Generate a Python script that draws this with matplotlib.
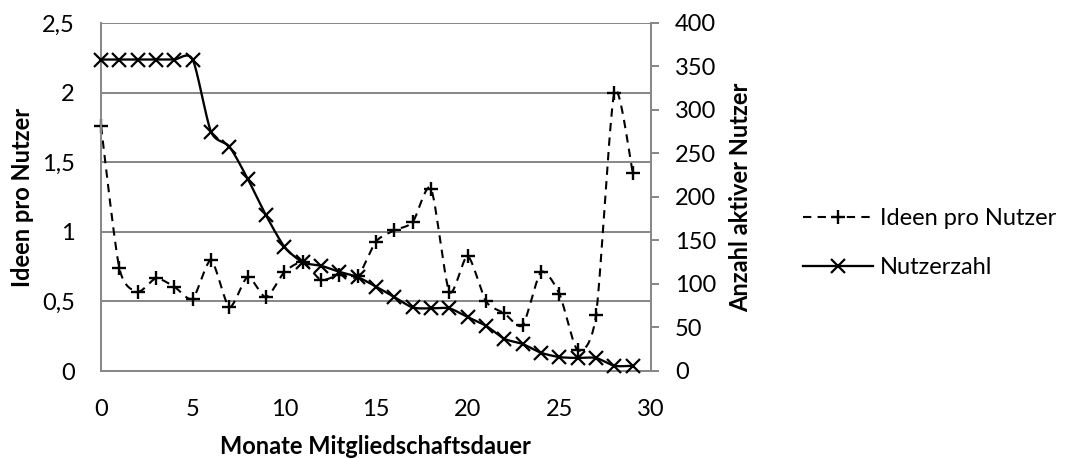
import numpy as np
import matplotlib
matplotlib.use("Agg")
import matplotlib.pyplot as plt
from matplotlib.lines import Line2D

# ---- data ----
months = list(range(30))
ideen_pro_nutzer = [1.76, 0.74, 0.57, 0.665, 0.605, 0.52, 0.795, 0.46, 0.675, 0.53,
                    0.71, 0.78, 0.655, 0.69, 0.68, 0.93, 1.01, 1.07, 1.31, 0.57,
                    0.825, 0.5, 0.415, 0.33, 0.71, 0.555, 0.15, 0.4, 2.0, 1.425]
nutzerzahl = [358, 358, 358, 358, 358, 358, 275, 258, 221, 179,
              143, 125, 121, 114, 108, 97, 85, 73, 72, 72,
              62, 52, 37, 31, 21, 16, 15, 15, 6, 6]

x_ticks = [0, 5, 10, 15, 20, 25, 30]
left_ticks = [0, 0.5, 1, 1.5, 2, 2.5]
left_tick_labels = ["0", "0,5", "1", "1,5", "2", "2,5"]
right_ticks = [0, 50, 100, 150, 200, 250, 300, 350, 400]

series_labels = ["Ideen pro Nutzer", "Nutzerzahl"]
x_title = "Monate Mitgliedschaftsdauer"
y_left_title = "Ideen pro Nutzer"
y_right_title = "Anzahl aktiver Nutzer"

plt.rcParams['font.family'] = ['Lato', 'DejaVu Sans']
FS = 17
GRAY = '#868686'
PX = 72 / 100.0  # points per pixel


def smooth(xs, ys, n=24, k=1 / 8.0):
    """Excel-like smoothed line (cubic Bezier through the data points)."""
    p = np.column_stack([xs, ys]).astype(float)
    m = len(p)
    out = [p[0]]
    t = np.linspace(0, 1, n)[1:, None]
    for i in range(m - 1):
        p0 = p[i - 1] if i > 0 else p[i]
        p1 = p[i]
        p2 = p[i + 1]
        p3 = p[i + 2] if i + 2 < m else p[i + 1]
        c1 = p1 + (p2 - p0) * k
        c2 = p2 - (p3 - p1) * k
        seg = ((1 - t) ** 3) * p1 + 3 * ((1 - t) ** 2) * t * c1 + 3 * (1 - t) * t ** 2 * c2 + t ** 3 * p2
        out.extend(seg)
    out = np.array(out)
    return out[:, 0], out[:, 1]


fig = plt.figure(figsize=(10.66, 4.59), dpi=100)
ax = fig.add_axes([101 / 1066, 1 - 371 / 459, 550 / 1066, 348 / 459])
ax.set_xlim(0, 30)
ax.set_ylim(0, 2.5)
ax.set_xticks(x_ticks)
ax.set_yticks(left_ticks)
ax.set_yticklabels(left_tick_labels)
ax.tick_params(axis='both', length=0, labelsize=FS)
ax.tick_params(axis='y', pad=26 * PX)
ax.tick_params(axis='x', pad=20)
ax.grid(axis='y', color=GRAY, lw=1.4)
ax.set_axisbelow(True)
for s in ['top', 'right']:
    ax.spines[s].set_visible(False)
for s in ['left', 'bottom']:
    ax.spines[s].set_color(GRAY)
    ax.spines[s].set_linewidth(1.4)

lw = 1.5
sx, sy = smooth(months, ideen_pro_nutzer)
ax.plot(sx, sy, color='black', lw=lw, ls=(0, (4, 3)), clip_on=False)
ax.plot(months, ideen_pro_nutzer, ls='none', marker='+', ms=10, mew=1.7, color='black', clip_on=False)

ax2 = ax.twinx()
ax2.set_ylim(0, 400)
ax2.set_yticks(right_ticks)
ax2.tick_params(axis='y', length=8 * PX, width=1.4, color=GRAY, labelsize=FS, pad=16 * PX)
for s in ['top', 'left', 'bottom']:
    ax2.spines[s].set_visible(False)
ax2.spines['right'].set_color(GRAY)
ax2.spines['right'].set_linewidth(1.4)
nx, ny = smooth(months, nutzerzahl)
ax2.plot(nx, ny, color='black', lw=lw * 1.1, clip_on=False)
ax2.plot(months, nutzerzahl, ls='none', marker='x', ms=9.5, mew=1.6, color='black', clip_on=False)

# axis titles
fig.text(23 / 1066, 1 - 197 / 459, y_left_title, rotation=90, ha='center', va='center',
         fontsize=FS, fontweight='bold')
fig.text(741 / 1066, 1 - 197 / 459, y_right_title, rotation=90, ha='center', va='center',
         fontsize=FS, fontweight='bold')
fig.text(375 / 1066, 1 - 446 / 459, x_title, ha='center', va='center',
         fontsize=FS, fontweight='bold')

handles = [
    Line2D([], [], color='black', lw=lw, ls=(0, (4, 3)), marker='+', ms=10, mew=1.7),
    Line2D([], [], color='black', lw=lw * 1.1, marker='x', ms=9.5, mew=1.6),
]
fig.legend(handles, series_labels, loc='center left', bbox_to_anchor=(803 / 1066, 1 - 243 / 459),
           frameon=False, fontsize=FS, handlelength=2.95, handletextpad=0.3,
           labelspacing=1.2, borderpad=0, borderaxespad=0, markerscale=1.0)

fig.savefig('out.png', dpi=100)
